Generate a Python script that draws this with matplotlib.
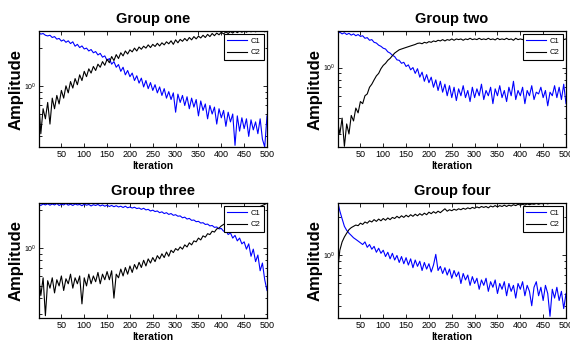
import matplotlib
matplotlib.use('Agg')
import matplotlib.pyplot as plt
from matplotlib.ticker import NullFormatter

plt.rcParams['font.family'] = ['Liberation Sans Narrow', 'Liberation Sans', 'DejaVu Sans']

# iteration index (sampled every 5 iterations)
iterations = [1] + list(range(5, 501, 5))

# Group one
g1_c1 = [2.62,
         2.55, 2.58, 2.50, 2.47, 2.50, 2.40, 2.44, 2.33, 2.36, 2.25,
         2.30, 2.20, 2.26, 2.15, 2.22, 2.05, 2.12, 2.00, 2.06, 1.95,
         1.98, 1.88, 1.93, 1.82, 1.86, 1.75, 1.80, 1.68, 1.72, 1.58,
         1.64, 1.48, 1.55, 1.40, 1.47, 1.30, 1.40, 1.22, 1.32, 1.18,
         1.26, 1.10, 1.20, 1.05, 1.15, 0.98, 1.10, 0.95, 1.06, 0.92,
         1.02, 0.88, 0.98, 0.84, 0.95, 0.80, 0.90, 0.78, 0.88, 0.62,
         0.86, 0.74, 0.84, 0.70, 0.82, 0.66, 0.80, 0.68, 0.78, 0.58,
         0.76, 0.64, 0.72, 0.55, 0.70, 0.60, 0.68, 0.50, 0.66, 0.56,
         0.64, 0.48, 0.62, 0.52, 0.60, 0.34, 0.58, 0.44, 0.56, 0.46,
         0.55, 0.40, 0.54, 0.45, 0.52, 0.42, 0.55, 0.38, 0.33, 0.58]
g1_c2 = [0.70,
         0.42, 0.66, 0.55, 0.74, 0.50, 0.80, 0.66, 0.84, 0.72, 0.92,
         0.80, 1.00, 0.88, 1.08, 0.96, 1.14, 1.02, 1.22, 1.10, 1.30,
         1.18, 1.36, 1.26, 1.42, 1.32, 1.48, 1.40, 1.55, 1.45, 1.62,
         1.52, 1.70, 1.58, 1.76, 1.64, 1.82, 1.72, 1.88, 1.78, 1.92,
         1.85, 1.98, 1.88, 2.02, 1.94, 2.05, 1.98, 2.10, 2.00, 2.12,
         2.04, 2.16, 2.06, 2.18, 2.10, 2.22, 2.14, 2.26, 2.12, 2.30,
         2.18, 2.32, 2.24, 2.36, 2.26, 2.40, 2.30, 2.44, 2.34, 2.46,
         2.38, 2.50, 2.40, 2.54, 2.44, 2.58, 2.48, 2.60, 2.52, 2.64,
         2.56, 2.66, 2.58, 2.68, 2.60, 2.70, 2.62, 2.70, 2.64, 2.72,
         2.64, 2.72, 2.66, 2.72, 2.66, 2.72, 2.68, 2.72, 2.66, 2.72]

# Group two
g2_c1 = [1.86,
         1.90, 1.84, 1.88, 1.82, 1.86, 1.80, 1.84, 1.78, 1.82, 1.76,
         1.78, 1.70, 1.72, 1.64, 1.66, 1.58, 1.56, 1.50, 1.47, 1.42,
         1.40, 1.33, 1.30, 1.25, 1.22, 1.15, 1.14, 1.08, 1.10, 1.02,
         1.05, 0.96, 1.00, 0.90, 0.98, 0.84, 0.92, 0.78, 0.88, 0.76,
         0.84, 0.70, 0.80, 0.66, 0.78, 0.64, 0.74, 0.60, 0.72, 0.58,
         0.70, 0.55, 0.68, 0.60, 0.72, 0.58, 0.66, 0.54, 0.70, 0.58,
         0.68, 0.60, 0.74, 0.56, 0.66, 0.60, 0.70, 0.52, 0.68, 0.60,
         0.72, 0.58, 0.66, 0.54, 0.70, 0.60, 0.78, 0.56, 0.66, 0.60,
         0.70, 0.52, 0.66, 0.60, 0.72, 0.56, 0.64, 0.62, 0.70, 0.58,
         0.66, 0.50, 0.64, 0.60, 0.72, 0.58, 0.70, 0.56, 0.74, 0.52]
g2_c2 = [0.36,
         0.30, 0.40, 0.24, 0.36, 0.30, 0.42, 0.38, 0.48, 0.44, 0.54,
         0.52, 0.60, 0.62, 0.70, 0.74, 0.80, 0.86, 0.90, 0.98, 1.04,
         1.08, 1.14, 1.18, 1.24, 1.30, 1.34, 1.38, 1.40, 1.42, 1.44,
         1.46, 1.48, 1.50, 1.52, 1.55, 1.56, 1.54, 1.58, 1.56, 1.60,
         1.58, 1.62, 1.60, 1.64, 1.62, 1.66, 1.62, 1.66, 1.64, 1.68,
         1.64, 1.68, 1.66, 1.68, 1.64, 1.68, 1.66, 1.70, 1.66, 1.68,
         1.66, 1.70, 1.66, 1.68, 1.66, 1.70, 1.66, 1.68, 1.65, 1.70,
         1.66, 1.68, 1.66, 1.70, 1.66, 1.68, 1.64, 1.70, 1.66, 1.68,
         1.66, 1.70, 1.66, 1.68, 1.66, 1.70, 1.66, 1.68, 1.66, 1.70,
         1.66, 1.68, 1.66, 1.70, 1.66, 1.68, 1.66, 1.70, 1.66, 1.68]

# Group three
g3_c1 = [2.22,
         2.18, 2.24, 2.20, 2.25, 2.19, 2.24, 2.20, 2.26, 2.18, 2.23,
         2.20, 2.26, 2.19, 2.23, 2.18, 2.24, 2.20, 2.22, 2.17, 2.23,
         2.19, 2.22, 2.16, 2.21, 2.18, 2.22, 2.16, 2.20, 2.15, 2.19,
         2.14, 2.18, 2.13, 2.17, 2.12, 2.15, 2.10, 2.15, 2.09, 2.12,
         2.08, 2.11, 2.06, 2.08, 2.03, 2.07, 2.01, 2.03, 1.97, 2.00,
         1.95, 1.97, 1.91, 1.94, 1.88, 1.91, 1.85, 1.88, 1.82, 1.84,
         1.79, 1.80, 1.74, 1.76, 1.70, 1.72, 1.66, 1.67, 1.62, 1.63,
         1.58, 1.59, 1.54, 1.55, 1.50, 1.51, 1.46, 1.47, 1.42, 1.43,
         1.36, 1.38, 1.28, 1.32, 1.20, 1.26, 1.14, 1.20, 1.08, 1.12,
         0.98, 1.08, 0.86, 0.98, 0.78, 0.88, 0.66, 0.76, 0.56, 0.46]
g3_c2 = [0.56,
         0.42, 0.58, 0.29, 0.55, 0.48, 0.58, 0.44, 0.56, 0.50, 0.60,
         0.46, 0.57, 0.52, 0.62, 0.48, 0.58, 0.52, 0.60, 0.36, 0.58,
         0.50, 0.62, 0.52, 0.60, 0.54, 0.64, 0.52, 0.62, 0.56, 0.65,
         0.56, 0.66, 0.40, 0.62, 0.58, 0.68, 0.60, 0.70, 0.62, 0.72,
         0.64, 0.74, 0.68, 0.77, 0.70, 0.80, 0.72, 0.82, 0.76, 0.84,
         0.78, 0.87, 0.82, 0.90, 0.84, 0.93, 0.86, 0.96, 0.92, 0.99,
         0.96, 1.02, 0.98, 1.06, 1.02, 1.10, 1.06, 1.14, 1.12, 1.20,
         1.16, 1.25, 1.22, 1.30, 1.28, 1.36, 1.34, 1.42, 1.44, 1.50,
         1.54, 1.58, 1.62, 1.65, 1.70, 1.72, 1.76, 1.80, 1.84, 1.86,
         1.90, 1.94, 1.98, 2.02, 2.06, 2.10, 2.14, 2.18, 2.22, 2.28]

# Group four
g4_c1 = [2.60,
         2.25, 1.95, 1.70, 1.58, 1.50, 1.44, 1.38, 1.34, 1.30, 1.26,
         1.22, 1.28, 1.16, 1.22, 1.12, 1.18, 1.06, 1.14, 1.04, 1.10,
         0.98, 1.06, 0.94, 1.04, 0.92, 1.00, 0.88, 0.98, 0.86, 0.96,
         0.84, 0.94, 0.80, 0.92, 0.82, 0.90, 0.76, 0.88, 0.78, 0.86,
         0.74, 0.84, 1.02, 0.76, 0.82, 0.72, 0.80, 0.70, 0.78, 0.66,
         0.76, 0.68, 0.74, 0.60, 0.72, 0.64, 0.70, 0.58, 0.68, 0.60,
         0.66, 0.54, 0.64, 0.58, 0.66, 0.52, 0.62, 0.56, 0.64, 0.50,
         0.60, 0.54, 0.62, 0.48, 0.60, 0.52, 0.58, 0.46, 0.60, 0.54,
         0.62, 0.48, 0.58, 0.52, 0.40, 0.56, 0.62, 0.48, 0.56, 0.44,
         0.58, 0.50, 0.33, 0.54, 0.46, 0.56, 0.44, 0.52, 0.38, 0.50]
g4_c2 = [0.80,
         1.10, 1.28, 1.40, 1.50, 1.60, 1.66, 1.70, 1.74, 1.72, 1.80,
         1.76, 1.84, 1.80, 1.88, 1.84, 1.92, 1.86, 1.94, 1.88, 1.96,
         1.90, 1.98, 1.92, 2.00, 1.96, 2.04, 1.98, 2.06, 2.00, 2.08,
         2.02, 2.10, 2.04, 2.12, 2.06, 2.14, 2.08, 2.16, 2.10, 2.20,
         2.14, 2.22, 2.16, 2.24, 2.18, 2.26, 2.34, 2.24, 2.30, 2.26,
         2.32, 2.28, 2.34, 2.30, 2.36, 2.32, 2.38, 2.34, 2.40, 2.36,
         2.42, 2.38, 2.44, 2.40, 2.44, 2.38, 2.46, 2.42, 2.48, 2.42,
         2.48, 2.44, 2.50, 2.44, 2.50, 2.46, 2.52, 2.48, 2.54, 2.50,
         2.54, 2.50, 2.56, 2.52, 2.56, 2.54, 2.58, 2.54, 2.58, 2.56,
         2.60, 2.56, 2.60, 2.58, 2.62, 2.58, 2.62, 2.60, 2.62, 2.62]

titles = ['Group one', 'Group two', 'Group three', 'Group four']
c1_series = [g1_c1, g2_c1, g3_c1, g4_c1]
c2_series = [g1_c2, g2_c2, g3_c2, g4_c2]
y_limits = [(0.33, 2.7), (0.237, 1.94), (0.278, 2.28), (0.32, 2.6)]
x_ticks = list(range(50, 501, 50))

W, H = 570, 344
boxes = [(39, 31, 267, 147), (338, 31, 566, 147),
         (39, 203, 267, 318), (338, 203, 566, 318)]

fig = plt.figure(figsize=(W / 100, H / 100), dpi=100)

for i in range(4):
    l, t, r, b = boxes[i]
    ax = fig.add_axes([l / W, 1 - b / H, (r - l) / W, (b - t) / H])
    ax.plot(iterations, c1_series[i], color='#0000ff', lw=0.8, label='C1')
    ax.plot(iterations, c2_series[i], color='k', lw=0.8, label='C2')
    ax.set_yscale('log')
    ax.set_xlim(1, 500)
    ax.set_ylim(*y_limits[i])
    ax.set_xticks(x_ticks)
    ax.yaxis.set_minor_formatter(NullFormatter())
    ax.tick_params(which='both', direction='in', top=True, right=True,
                   labelsize=6.5, pad=2, width=0.6)
    ax.tick_params(axis='y', labelsize=5, pad=1.5)
    ax.tick_params(which='major', length=3)
    ax.tick_params(which='minor', length=1.8)
    for sp in ax.spines.values():
        sp.set_linewidth(0.9)

    ax.set_title(titles[i], fontsize=10.5, fontweight='bold', pad=6)
    ax.set_ylabel('Amplitude', fontsize=12, fontweight='bold', va='center',
                  family=['Liberation Sans', 'DejaVu Sans'])
    ax.yaxis.set_label_coords(-23 / (r - l), 0.5)
    ax.set_xlabel('Iteration', fontsize=7.5, fontweight='bold', va='center')
    ax.xaxis.set_label_coords(0.5, -19 / (b - t))

    leg = ax.legend(loc='upper right', fontsize=5.5, fancybox=False,
                    edgecolor='k', framealpha=1, handlelength=2.6,
                    borderaxespad=0.4, borderpad=0.45, labelspacing=0.55,
                    handletextpad=0.45)
    leg.get_frame().set_linewidth(0.8)

fig.savefig('out.png', dpi=100)
